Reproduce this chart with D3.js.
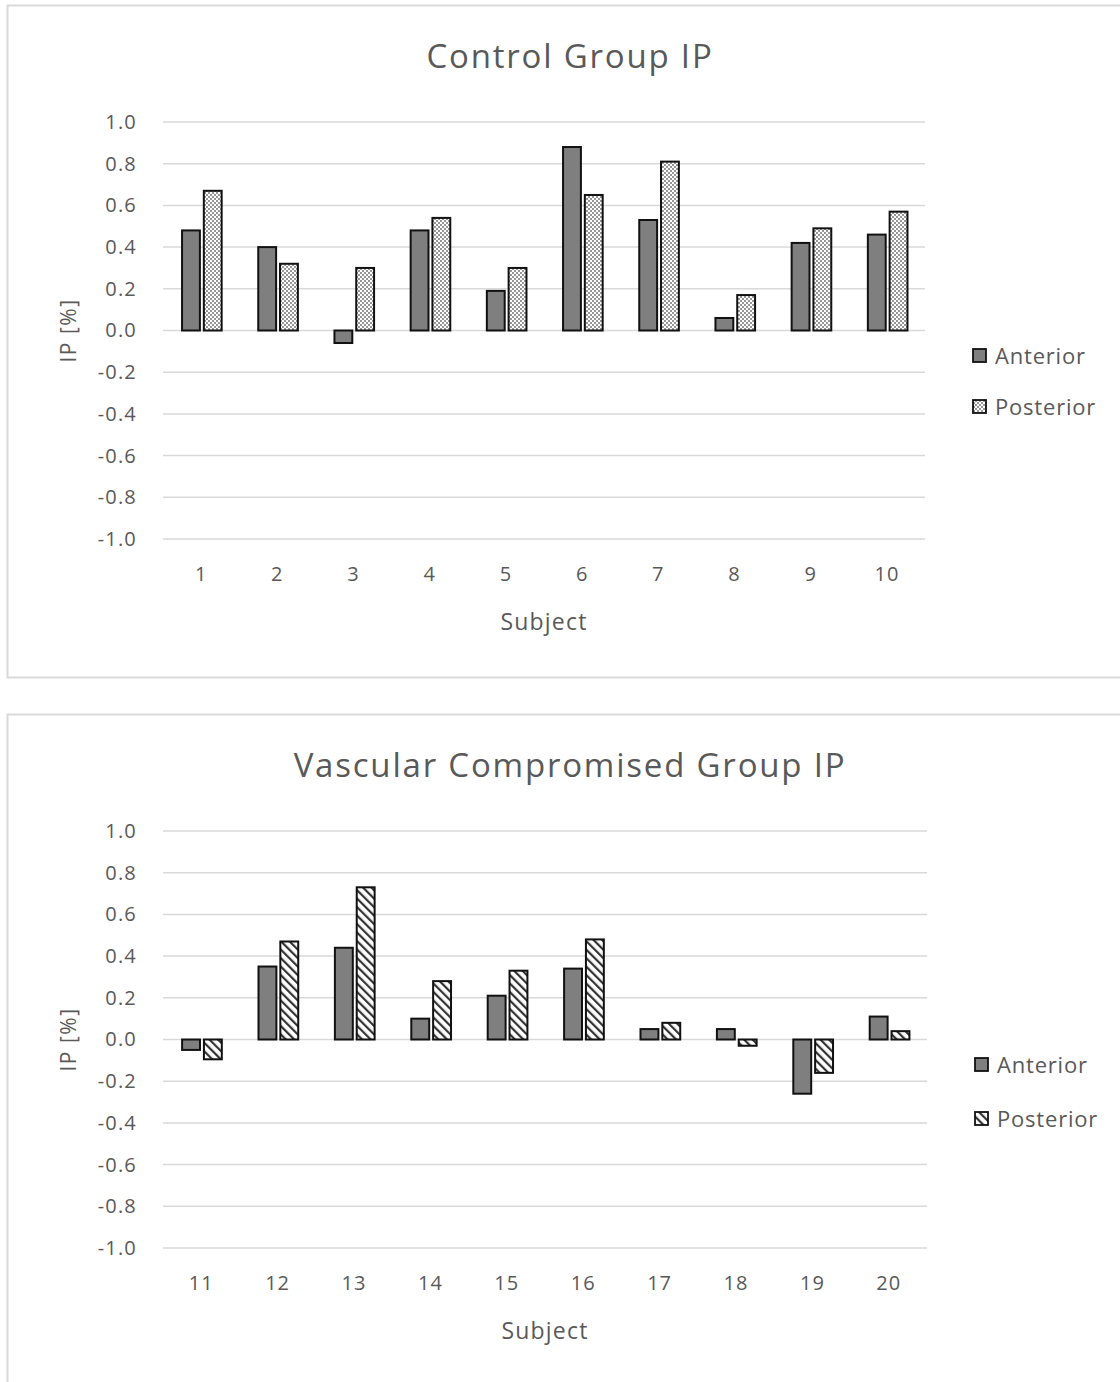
<!DOCTYPE html>
<html>
<head>
<meta charset="utf-8">
<script src="https://cdn.jsdelivr.net/npm/d3@7"></script>
<style>
  body { margin: 0; background: #fff; }
  text { font-family: "Open Sans", sans-serif; fill: #595959; }
</style>
</head>
<body>
<div id="canvas"></div>
<script>
// chart values
const series = ['Anterior', 'Posterior'];
const yTicks = [1.0, 0.8, 0.6, 0.4, 0.2, 0.0, -0.2, -0.4, -0.6, -0.8, -1.0];

const controlSubjects = ['1', '2', '3', '4', '5', '6', '7', '8', '9', '10'];
const controlAnterior = [0.48, 0.40, -0.06, 0.48, 0.19, 0.88, 0.53, 0.06, 0.42, 0.46];
const controlPosterior = [0.67, 0.32, 0.30, 0.54, 0.30, 0.65, 0.81, 0.17, 0.49, 0.57];

const vascSubjects = ['11', '12', '13', '14', '15', '16', '17', '18', '19', '20'];
const vascAnterior = [-0.05, 0.35, 0.44, 0.10, 0.21, 0.34, 0.05, 0.05, -0.26, 0.11];
const vascPosterior = [-0.095, 0.47, 0.73, 0.28, 0.33, 0.48, 0.08, -0.03, -0.16, 0.04];

const width = 1120;
const height = 1382;

const svg = d3.select('#canvas')
  .append('svg')
  .attr('width', width)
  .attr('height', height);

// fill patterns: dots for the control posterior, stripes for the vascular one
const defs = svg.append('defs');
const dots = defs.append('pattern')
  .attr('id', 'dots')
  .attr('patternUnits', 'userSpaceOnUse')
  .attr('width', 4).attr('height', 4);
dots.append('rect').attr('width', 4).attr('height', 4).attr('fill', '#fff');
dots.append('circle').attr('cx', 1).attr('cy', 1).attr('r', 0.9).attr('fill', '#666');
dots.append('circle').attr('cx', 3).attr('cy', 3).attr('r', 0.9).attr('fill', '#666');

const stripes = defs.append('pattern')
  .attr('id', 'stripes')
  .attr('patternUnits', 'userSpaceOnUse')
  .attr('width', 6).attr('height', 6)
  .attr('patternTransform', 'rotate(-45)');
stripes.append('rect').attr('width', 6).attr('height', 6).attr('fill', '#fff');
stripes.append('rect').attr('x', 0).attr('width', 2.2).attr('height', 6).attr('fill', '#333');

const drawChart = (opts) => {
  const { top, title, subjects, anterior, posterior, patternId, xRight } = opts;

  // frame
  svg.append('rect')
    .attr('x', 7.5).attr('y', top - 0.5)
    .attr('width', 1130).attr('height', 672)
    .attr('fill', 'none')
    .attr('stroke', '#d9d9d9')
    .attr('stroke-width', 2);

  const plotTop = top + 116;
  const plotBottom = top + 533;
  const plotLeft = 163;

  const y = d3.scaleLinear().domain([-1, 1]).range([plotBottom, plotTop]);
  const x = d3.scaleBand().domain(subjects).range([plotLeft, xRight]).padding(0);
  const step = x.bandwidth();
  const xSub = d3.scaleBand().domain(series)
    .range([step * 0.25, step * 0.77])
    .paddingInner(0.18).paddingOuter(0);

  const g = svg.append('g');

  // gridlines
  g.selectAll('.grid')
    .data(yTicks)
    .enter().append('line')
      .attr('x1', plotLeft).attr('x2', xRight)
      .attr('y1', d => y(d)).attr('y2', d => y(d))
      .attr('stroke', '#d9d9d9')
      .attr('stroke-width', 1.5);

  // y axis labels
  const yAxis = g.append('g')
    .attr('transform', `translate(${plotLeft},0)`)
    .call(d3.axisLeft(y).tickValues(yTicks).tickFormat(d3.format('.1f')).tickSize(0).tickPadding(26));
  yAxis.select('.domain').remove();
  yAxis.selectAll('text')
    .style('font-size', '20px')
    .style('letter-spacing', '1.2px')
    .attr('fill', '#595959')
    .text(d => d3.format('.1f')(d).replace('−', '-'));

  // x axis labels
  const xAxis = g.append('g')
    .attr('transform', `translate(0,${plotBottom})`)
    .call(d3.axisBottom(x).tickSize(0).tickPadding(28));
  xAxis.select('.domain').remove();
  xAxis.selectAll('text')
    .style('font-size', '20px')
    .style('letter-spacing', '1px')
    .attr('fill', '#595959');

  // bars
  const rows = subjects.map((s, i) => [
    { subject: s, key: 'Anterior', value: anterior[i] },
    { subject: s, key: 'Posterior', value: posterior[i] }
  ]).flat();

  g.selectAll('.bar')
    .data(rows)
    .enter().append('rect')
      .attr('x', d => x(d.subject) + xSub(d.key))
      .attr('width', xSub.bandwidth())
      .attr('y', d => y(Math.max(0, d.value)))
      .attr('height', d => Math.abs(y(d.value) - y(0)))
      .attr('fill', d => d.key === 'Anterior' ? '#7f7f7f' : `url(#${patternId})`)
      .attr('stroke', '#111')
      .attr('stroke-width', 2);

  // title
  svg.append('text')
    .attr('x', 570).attr('y', top + 62)
    .attr('text-anchor', 'middle')
    .style('font-size', '33px')
    .style('letter-spacing', '1.8px')
    .text(title);

  // axis titles
  svg.append('text')
    .attr('x', (plotLeft + xRight) / 2).attr('y', top + 624)
    .attr('text-anchor', 'middle')
    .style('font-size', '23px')
    .style('letter-spacing', '1.2px')
    .text('Subject');

  svg.append('text')
    .attr('transform', `translate(76,${y(0)}) rotate(-90)`)
    .attr('text-anchor', 'middle')
    .style('font-size', '21px')
    .style('letter-spacing', '1.5px')
    .text('IP [%]');

  // legend
  const legend = svg.append('g')
    .attr('transform', `translate(${xRight + 48},${top + 349})`);
  series.forEach((s, i) => {
    const row = legend.append('g').attr('transform', `translate(0,${i * (opts.legendGap)})`);
    row.append('rect')
      .attr('x', 0).attr('y', -6)
      .attr('width', 13).attr('height', 13)
      .attr('fill', s === 'Anterior' ? '#7f7f7f' : `url(#${patternId})`)
      .attr('stroke', '#111')
      .attr('stroke-width', 1.8);
    row.append('text')
      .attr('x', 22).attr('y', 9)
      .style('font-size', '22px')
      .style('letter-spacing', '0.8px')
      .text(s);
  });
};

drawChart({
  top: 6, title: 'Control Group IP',
  subjects: controlSubjects, anterior: controlAnterior, posterior: controlPosterior,
  patternId: 'dots', xRight: 925, legendGap: 51
});

drawChart({
  top: 715, title: 'Vascular Compromised Group IP',
  subjects: vascSubjects, anterior: vascAnterior, posterior: vascPosterior,
  patternId: 'stripes', xRight: 927, legendGap: 54
});
</script>
</body>
</html>
